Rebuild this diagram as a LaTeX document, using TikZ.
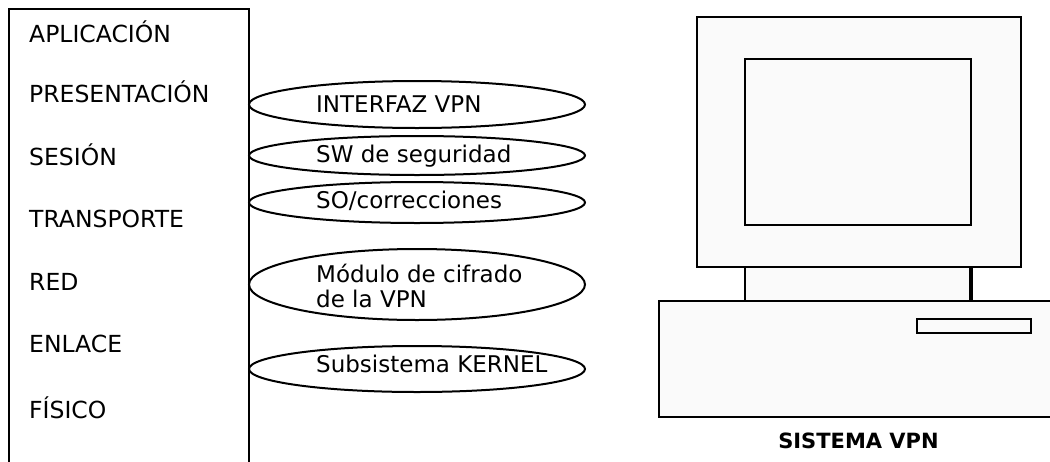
\documentclass[tikz,border=0pt]{standalone}
\usepackage{fontspec}
\setmainfont{DejaVu Sans}
\usetikzlibrary{shapes.geometric}
\definecolor{casefill}{HTML}{FAFAFA}
\tikzset{
  layer/.style={anchor=base west, inner sep=0pt, font=\fontsize{23.5}{27}\selectfont},
  compbox/.style={ellipse, draw, line width=2pt, minimum width=336pt, inner sep=0pt},
  comptext/.style={anchor=base west, inner sep=0pt, font=\fontsize{23}{25}\selectfont},
  hw/.style={draw, line width=2.4pt, fill=casefill},
}
\begin{document}
\begin{tikzpicture}[x=1pt, y=-1pt]
\useasboundingbox (0,0) rectangle (1050,461);
\clip (0,0) rectangle (1050,461);

% OSI stack frame (open at the bottom)
\draw[line width=2.5pt] (9,475) -- (9,9) -- (249,9) -- (249,475);

% layer names
\node[layer] (app)  at (29,42)  {APLICACIÓN};
\node[layer] (pres) at (29,102) {PRESENTACIÓN};
\node[layer] (ses)  at (29,165) {SESIÓN};
\node[layer] (trans) at (29,227) {TRANSPORTE};
\node[layer] (red)  at (29,290) {RED};
\node[layer] (enl)  at (29,352) {ENLACE};
\node[layer] (fis)  at (29,418) {FÍSICO};

% VPN components
\node[compbox, minimum height=47pt] (e1) at (417,104.5) {};
\node[compbox, minimum height=39pt] (e2) at (417,155.5) {};
\node[compbox, minimum height=41pt] (e3) at (417,202.5) {};
\node[compbox, minimum height=71pt] (e4) at (417,284.5) {};
\node[compbox, minimum height=46pt] (e5) at (417,369) {};

\node[comptext] (t1) at (316,112) {INTERFAZ VPN};
\node[comptext] (t2) at (316,162) {SW de seguridad};
\node[comptext] (t3) at (316,208) {SO/correcciones};
\node[comptext] (t4a) at (316,282) {Módulo de cifrado};
\node[comptext] (t4b) at (316,307) {de la VPN};
\node[comptext] (t5) at (316,372) {Subsistema KERNEL};

% computer
\draw[hw] (745,267) rectangle (972,301);
\draw[line width=3.8pt] (971,266) -- (971,301);
\draw[hw] (697,17) rectangle (1021,267);
\draw[hw] (745,59) rectangle (971,225);
\draw[hw] (659,301) rectangle (1060,417);
\draw[hw] (917,319) rectangle (1031,333);

\node[anchor=base, inner sep=0pt, font=\fontsize{21}{25}\selectfont\bfseries] (cap) at (858.5,448) {SISTEMA VPN};
\end{tikzpicture}
\end{document}
